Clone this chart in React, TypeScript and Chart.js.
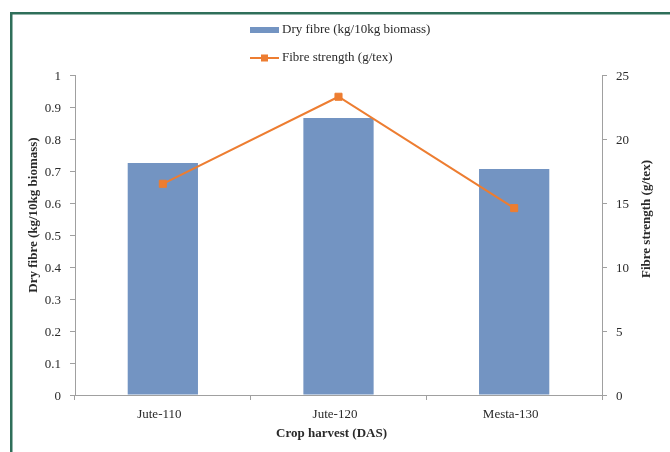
import React, { useEffect, useRef } from "react";
import { Chart, registerables } from "chart.js";

Chart.register(...registerables);

const categories = ["Jute-110", "Jute-120", "Mesta-130"];
const dryFibre = [0.725, 0.866, 0.706];
const fibreStrength = [16.5, 23.3, 14.6];
const leftTitle = "Dry fibre (kg/10kg biomass)";
const rightTitle = "Fibre strength (g/tex)";
const xTitle = "Crop harvest (DAS)";

const FONT = "'Liberation Serif', 'Times New Roman', serif";
const TEXT = "#2a2a2a";
const AXIS = "#a0a0a0";
const BAR = "#7394c2";
const LINE = "#ed7d31";
const FRAME = "#2f6f5a";

const decorPlugin = {
  id: "decor",
  beforeDraw(chart: any) {
    const ctx = chart.ctx;
    ctx.save();
    ctx.fillStyle = "#ffffff";
    ctx.fillRect(0, 0, chart.width, chart.height);
    ctx.strokeStyle = FRAME;
    ctx.lineWidth = 2.5;
    ctx.beginPath();
    ctx.moveTo(11.25, chart.height + 2);
    ctx.lineTo(11.25, 13.25);
    ctx.lineTo(chart.width + 2, 13.25);
    ctx.stroke();
    ctx.restore();
  },
  afterDraw(chart: any) {
    const ctx = chart.ctx;
    const area = chart.chartArea;
    ctx.save();
    // axis titles
    ctx.fillStyle = TEXT;
    ctx.font = `bold 13px ${FONT}`;
    ctx.textAlign = "center";
    ctx.textBaseline = "middle";
    const midY = (area.top + area.bottom) / 2 - 18;
    ctx.save();
    ctx.translate(area.left - 41, midY - 2);
    ctx.rotate(-Math.PI / 2);
    ctx.fillText(leftTitle, 0, 0);
    ctx.restore();
    ctx.save();
    ctx.translate(area.right + 45, midY + 2);
    ctx.rotate(-Math.PI / 2);
    ctx.fillText(rightTitle, 0, 0);
    ctx.restore();
    ctx.fillText(xTitle, (area.left + area.right) / 2 - 7, area.bottom + 39);

    // legend
    ctx.font = `13px ${FONT}`;
    const ds = chart.data.datasets;
    const labels = ds.map((d: any) => d.label);
    const maxW = Math.max(...labels.map((l: string) => ctx.measureText(l).width));
    const blockW = 32 + maxW;
    const x0 = Math.round((area.left + area.right) / 2 - blockW / 2) + 2;
    const rows = [30, 58];
    ds.forEach((d: any, i: number) => {
      const cy = rows[i];
      if (d.type === "line") {
        ctx.strokeStyle = d.borderColor;
        ctx.lineWidth = 2;
        ctx.beginPath();
        ctx.moveTo(x0, cy);
        ctx.lineTo(x0 + 29, cy);
        ctx.stroke();
        ctx.fillStyle = d.borderColor;
        ctx.fillRect(x0 + 14.5 - 3.5, cy - 3.5, 7, 7);
      } else {
        ctx.fillStyle = d.backgroundColor;
        ctx.fillRect(x0, cy - 3, 29, 6);
      }
      ctx.fillStyle = TEXT;
      ctx.textAlign = "left";
      ctx.textBaseline = "middle";
      ctx.fillText(d.label, x0 + 32, cy);
    });
    ctx.restore();
  },
};

export default function App() {
  const ref = useRef<HTMLCanvasElement | null>(null);

  useEffect(() => {
    document.body.style.margin = "0";
    const canvas = ref.current;
    if (!canvas) return;
    const chart = new Chart(canvas, {
      type: "bar",
      data: {
        labels: categories,
        datasets: [
          {
            type: "bar",
            label: "Dry fibre (kg/10kg biomass)",
            data: dryFibre,
            backgroundColor: BAR,
            borderWidth: 0,
            barPercentage: 0.4,
            categoryPercentage: 1.0,
            yAxisID: "y",
            order: 1,
          },
          {
            type: "line",
            label: "Fibre strength (g/tex)",
            data: fibreStrength,
            borderColor: LINE,
            backgroundColor: LINE,
            borderWidth: 2,
            pointStyle: "rect",
            pointRadius: 5,
            pointBorderWidth: 1,
            pointBackgroundColor: LINE,
            pointBorderColor: LINE,
            tension: 0,
            fill: false,
            yAxisID: "y2",
            order: 0,
          },
        ] as any,
      },
      options: {
        responsive: false,
        animation: false,
        events: [],
        layout: { padding: { top: 75, left: 0, right: 0, bottom: 0 } },
        font: { family: FONT, size: 13 },
        plugins: {
          legend: { display: false },
          tooltip: { enabled: false },
          title: { display: false },
        },
        scales: {
          x: {
            offset: true,
            grid: {
              offset: true,
              drawOnChartArea: false,
              drawTicks: true,
              tickLength: 5,
              color: AXIS,
            },
            border: { display: true, color: AXIS },
            ticks: {
              color: TEXT,
              font: { family: FONT, size: 13 },
              padding: 7,
              labelOffset: -3.5,
              maxRotation: 0,
            },
            afterFit(scale: any) {
              scale.height = 57;
            },
          },
          y: {
            position: "left",
            min: 0,
            max: 1,
            grid: {
              drawOnChartArea: false,
              drawTicks: true,
              tickLength: 5,
              color: AXIS,
            },
            border: { display: true, color: AXIS },
            ticks: {
              stepSize: 0.1,
              color: TEXT,
              font: { family: FONT, size: 13 },
              padding: 9,
              labelOffset: 2,
              callback: (v: any) => String(Math.round(Number(v) * 10) / 10),
            },
            afterFit(scale: any) {
              scale.width = 75;
            },
          },
          y2: {
            position: "right",
            min: 0,
            max: 25,
            grid: {
              drawOnChartArea: false,
              drawTicks: true,
              tickLength: 5,
              color: AXIS,
            },
            border: { display: true, color: AXIS },
            ticks: {
              stepSize: 5,
              color: TEXT,
              font: { family: FONT, size: 13 },
              padding: 9,
              labelOffset: 2,
            },
            afterFit(scale: any) {
              scale.width = 68;
            },
          },
        },
      } as any,
      plugins: [decorPlugin],
    });
    return () => chart.destroy();
  }, []);

  return (
    <div style={{ width: 670, height: 452 }}>
      <canvas ref={ref} width={670} height={452} style={{ display: "block" }} />
    </div>
  );
}
